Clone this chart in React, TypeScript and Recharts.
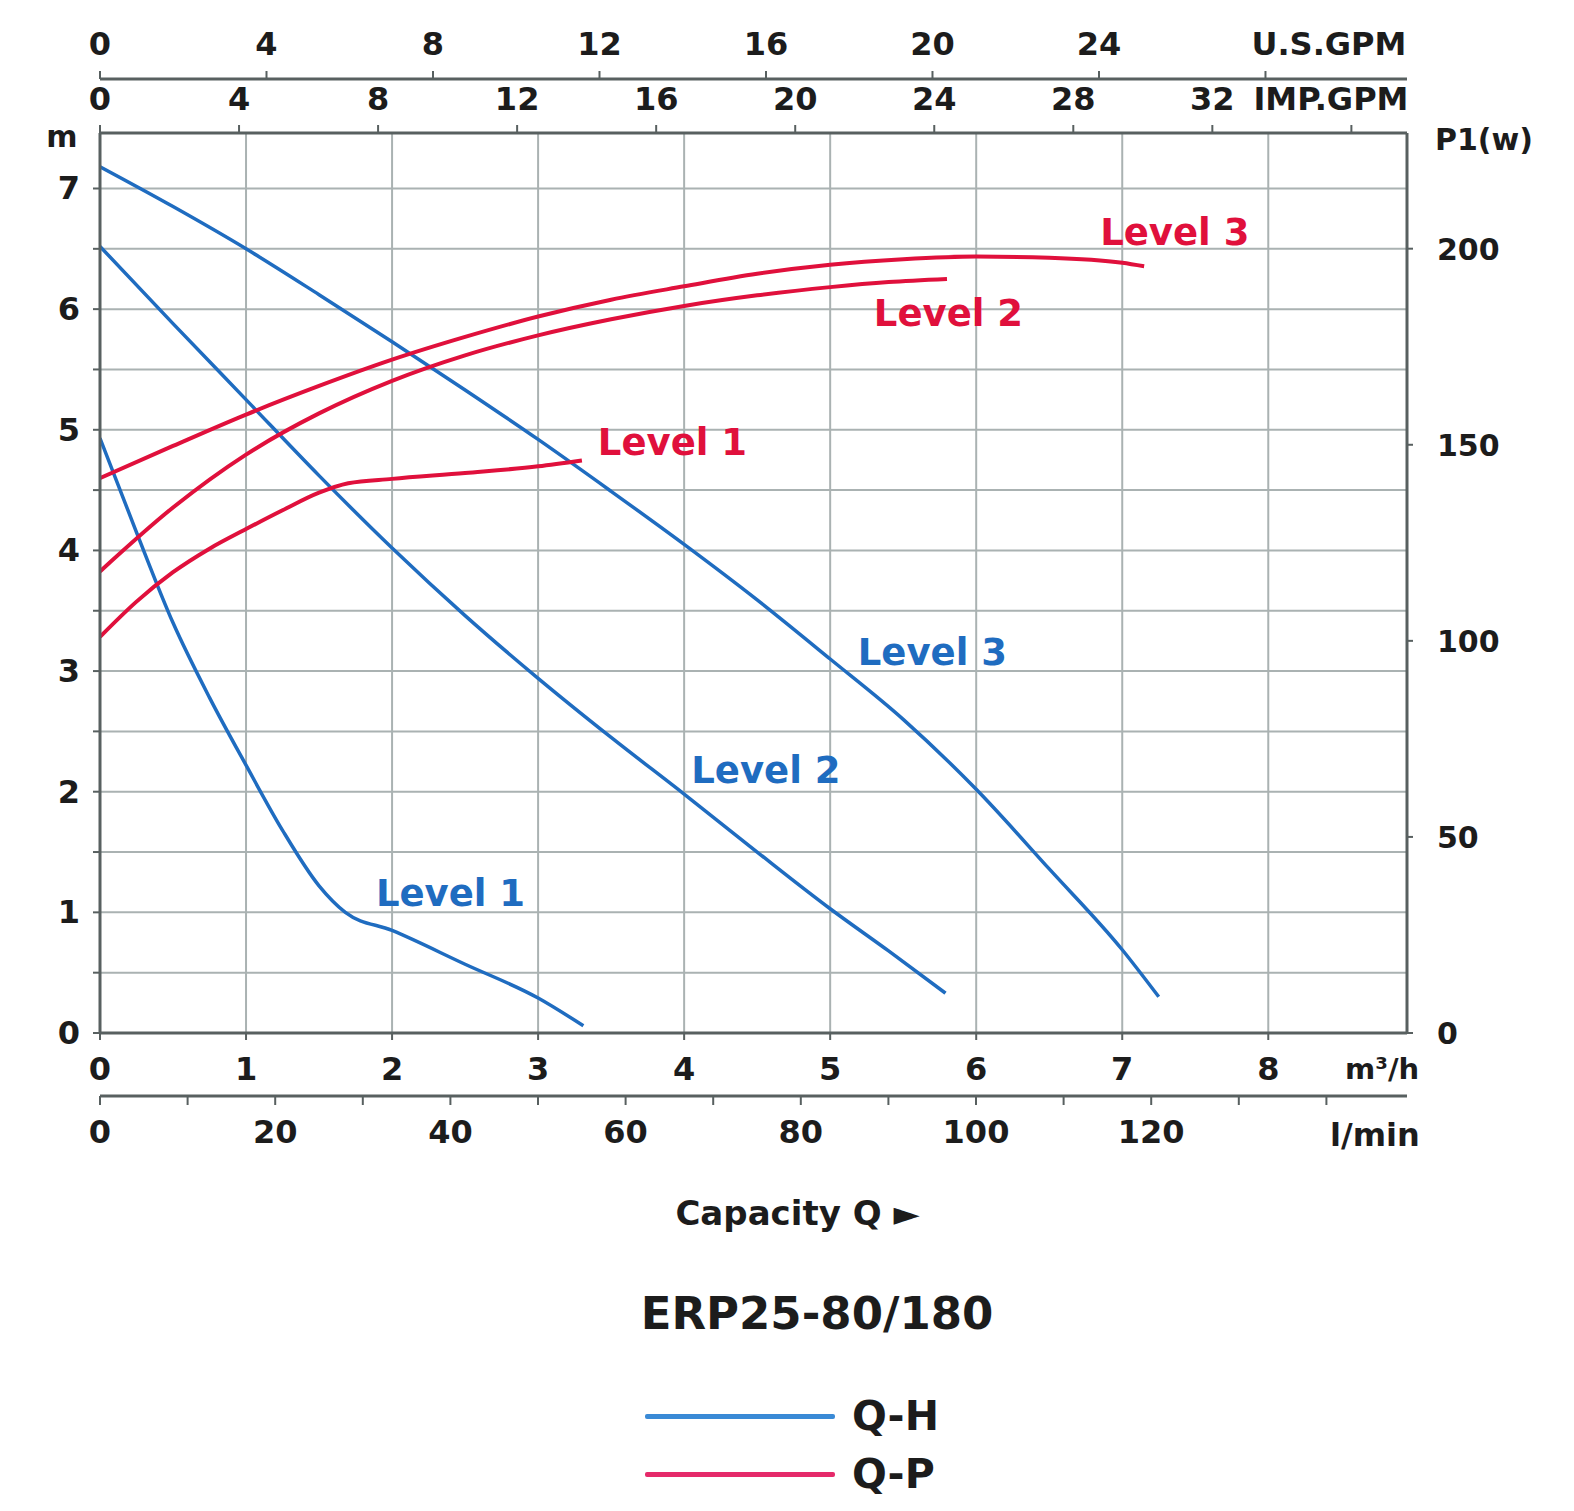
import {
  CartesianGrid,
  Label,
  Legend,
  Line,
  LineChart,
  ReferenceDot,
  XAxis,
  YAxis,
} from "recharts";

// capacity Q in m³/h, head H in m
const QH_LEVEL1: [number, number][] = [
  [0, 4.93], [0.25, 4.15], [0.5, 3.4], [0.75, 2.78], [1.0, 2.22], [1.25, 1.68], [1.5, 1.22],
  [1.68, 1.0], [2.0, 0.85], [2.5, 0.57], [3.0, 0.29], [3.31, 0.06],
];
const QH_LEVEL2: [number, number][] = [
  [0, 6.52], [0.5, 5.88], [1, 5.25], [1.5, 4.62], [2, 4.02], [2.5, 3.46], [3, 2.94],
  [3.5, 2.45], [4, 1.98], [4.5, 1.5], [5, 1.03], [5.4, 0.68], [5.79, 0.33],
];
const QH_LEVEL3: [number, number][] = [
  [0, 7.18], [0.5, 6.85], [1, 6.5], [1.5, 6.12], [2, 5.73], [2.5, 5.33], [3, 4.92], [3.5, 4.49],
  [4, 4.05], [4.5, 3.59], [5, 3.1], [5.5, 2.6], [6, 2.02], [6.5, 1.36], [7, 0.69], [7.25, 0.3],
];

// capacity Q in m³/h, power P1 in W
const QP_LEVEL1: [number, number][] = [
  [0, 101], [0.25, 110], [0.5, 117.5], [0.75, 123.5], [1, 128.5], [1.25, 133.3], [1.5, 137.8],
  [1.7, 140.2], [2, 141.3], [2.5, 142.8], [3, 144.5], [3.3, 146],
];
const QP_LEVEL2: [number, number][] = [
  [0, 117.7], [0.5, 134], [1, 147.5], [1.5, 158], [2, 166.3], [2.5, 172.8], [3, 177.9],
  [3.5, 182], [4, 185.4], [4.5, 188.1], [5, 190.2], [5.4, 191.5], [5.8, 192.3],
];
const QP_LEVEL3: [number, number][] = [
  [0, 141.5], [0.5, 149.7], [1, 157.7], [1.5, 165], [2, 171.7], [2.5, 177.5], [3, 182.7],
  [3.5, 187], [4, 190.4], [4.5, 193.6], [5, 195.9], [5.5, 197.3], [6, 198], [6.5, 197.7],
  [7, 196.4], [7.15, 195.5],
];

const Q_TICKS = [0, 1, 2, 3, 4, 5, 6, 7, 8];
const LMIN_TICKS = [0, 10, 20, 30, 40, 50, 60, 70, 80, 90, 100, 110, 120, 130, 140];
const LMIN_LABELS = [0, 20, 40, 60, 80, 100, 120];
const US_GPM_TICKS = [0, 4, 8, 12, 16, 20, 24, 28];
const IMP_GPM_TICKS = [0, 4, 8, 12, 16, 20, 24, 28, 32, 36];
const H_TICKS = [0, 0.5, 1, 1.5, 2, 2.5, 3, 3.5, 4, 4.5, 5, 5.5, 6, 6.5, 7];
const P_TICKS = [0, 50, 100, 150, 200];

const Q_MAX = 8.95;
const LMIN_MAX = 149.2;
const US_GPM_MAX = 31.4;
const IMP_GPM_MAX = 37.6;
const H_MAX = 7.46;
const P_MAX = 229.5;

// extents of the secondary capacity scales (same span as 0..Q_MAX m³/h)
const SCALE_EXTENTS = [
  { lmin: 0, imp: 0, us: 0 },
  { lmin: LMIN_MAX, imp: IMP_GPM_MAX, us: US_GPM_MAX },
];

// curve name labels: [text, Q, value]
const QH_LABELS: [string, number, number][] = [
  ["Level 1", 2.4, 1.16],
  ["Level 2", 4.56, 2.18],
  ["Level 3", 5.7, 3.16],
];
const QP_LABELS: [string, number, number][] = [
  ["Level 1", 3.92, 150.8],
  ["Level 2", 5.81, 183.7],
  ["Level 3", 7.36, 204.3],
];

const LEGEND_ITEMS = [
  { name: "Q-H", color: "#3a8ad6" },
  { name: "Q-P", color: "#e52a6a" },
];

const BLUE = "#1f6cc0";
const RED = "#e0103c";
const AXIS = "#586060";
const GRID = "#aab2b2";
const FONT = "DejaVu Sans, Verdana, sans-serif";

const toPoints = (rows: [number, number][]) => rows.map(([q, v]) => ({ q, v }));

const txt = { fontFamily: FONT, fontWeight: 700, fill: "#1c1c1c" };
const axisLine = { stroke: AXIS, strokeWidth: 3 };
const tickLine = { stroke: AXIS, strokeWidth: 2 };

function topTick(unit: string, unitAt: number, unitDx: number) {
  return (props: any) => {
    const { x, y, payload } = props;
    if (payload.value === unitAt) {
      return (
        <text x={x + unitDx} y={y} textAnchor="start" fontSize={32} {...txt}>
          {unit}
        </text>
      );
    }
    return (
      <text x={x} y={y} textAnchor="middle" fontSize={32} {...txt}>
        {payload.value}
      </text>
    );
  };
}

function bottomTick(labelled: number[]) {
  return (props: any) => {
    const { x, y, payload } = props;
    if (!labelled.includes(payload.value)) return <g />;
    return (
      <text x={x} y={y} dy={24} textAnchor="middle" fontSize={32} {...txt}>
        {payload.value}
      </text>
    );
  };
}

const usTick = topTick("U.S.GPM", 28, -14);
const impTick = topTick("IMP.GPM", 36, -98);
const flowTick = bottomTick(Q_TICKS);
const lminTick = bottomTick(LMIN_LABELS);

function leftTick(props: any) {
  const { x, y, payload } = props;
  if (!Number.isInteger(payload.value)) return <g />;
  return (
    <text x={x} y={y} dy={11} textAnchor="end" fontSize={32} {...txt}>
      {payload.value}
    </text>
  );
}

function rightTick(props: any) {
  const { x, y, payload } = props;
  return (
    <text x={x} y={y} dy={11} textAnchor="start" fontSize={30} {...txt}>
      {payload.value}
    </text>
  );
}

const m3hLabel = (p: any) => (
  <text x={p.viewBox.x + p.viewBox.width - 62} y={p.viewBox.y + 46} fontSize={29} {...txt}>
    m³/h
  </text>
);
const lminLabel = (p: any) => (
  <text x={p.viewBox.x + p.viewBox.width - 77} y={p.viewBox.y + 50} fontSize={32} {...txt}>
    l/min
  </text>
);
const capacityLabel = (p: any) => (
  <text x={p.viewBox.x + p.viewBox.width / 2 + 44} y={p.viewBox.y + 129} textAnchor="middle" fontSize={34} {...txt}>
    Capacity Q ►
  </text>
);
const headLabel = (p: any) => (
  <text x={p.viewBox.x + 54} y={p.viewBox.y + 14} textAnchor="middle" fontSize={30} {...txt}>
    m
  </text>
);
const powerLabel = (p: any) => (
  <text x={p.viewBox.x + 28} y={p.viewBox.y + 17} fontSize={30} {...txt}>
    P1(w)
  </text>
);

function LegendBlock() {
  return (
    <div style={{ position: "relative", width: 1558, height: 250, fontFamily: FONT, fontWeight: 700, color: "#1c1c1c" }}>
      <div
        style={{
          position: "absolute",
          top: 38,
          left: 0,
          width: 1558,
          paddingLeft: 60,
          boxSizing: "border-box",
          textAlign: "center",
          fontSize: 45,
          lineHeight: 1,
        }}
      >
        ERP25-80/180
      </div>
      {LEGEND_ITEMS.map((item, i) => (
        <div
          key={item.name}
          style={{
            position: "absolute",
            left: 637,
            top: 138 + i * 58,
            height: 50,
            display: "flex",
            alignItems: "center",
          }}
        >
          <div style={{ width: 190, height: 5, background: item.color, borderRadius: 2 }} />
          <span style={{ marginLeft: 17, fontSize: 41, lineHeight: "50px" }}>{item.name}</span>
        </div>
      ))}
    </div>
  );
}

const legendContent = () => <LegendBlock />;
const legendWrapper = { left: 0, width: 1558 };

export default function App() {
  return (
    <LineChart width={1558} height={1495} data={SCALE_EXTENTS} margin={{ top: 0, right: 0, bottom: 0, left: 0 }}>
      <CartesianGrid xAxisId="flow" yAxisId="h" stroke={GRID} strokeWidth={2} />

      <XAxis
        xAxisId="flow"
        dataKey="q"
        type="number"
        orientation="bottom"
        domain={[0, Q_MAX]}
        allowDataOverflow
        ticks={Q_TICKS}
        interval={0}
        height={63}
        tickSize={7}
        tickMargin={16}
        tick={flowTick}
        axisLine={axisLine}
        tickLine={tickLine}
      >
        <Label content={m3hLabel} />
      </XAxis>
      <XAxis
        xAxisId="lmin"
        dataKey="lmin"
        type="number"
        orientation="bottom"
        domain={[0, LMIN_MAX]}
        allowDataOverflow
        ticks={LMIN_TICKS}
        interval={0}
        height={157}
        tickSize={9}
        tickMargin={14}
        tick={lminTick}
        axisLine={axisLine}
        tickLine={tickLine}
      >
        <Label content={lminLabel} />
        <Label content={capacityLabel} />
      </XAxis>
      <XAxis
        xAxisId="imp"
        dataKey="imp"
        type="number"
        orientation="top"
        domain={[0, IMP_GPM_MAX]}
        allowDataOverflow
        ticks={IMP_GPM_TICKS}
        interval={0}
        height={54}
        tickSize={8}
        tickMargin={15}
        tick={impTick}
        axisLine={axisLine}
        tickLine={tickLine}
      />
      <XAxis
        xAxisId="us"
        dataKey="us"
        type="number"
        orientation="top"
        domain={[0, US_GPM_MAX]}
        allowDataOverflow
        ticks={US_GPM_TICKS}
        interval={0}
        height={71}
        tickSize={8}
        tickMargin={16}
        tick={usTick}
        axisLine={axisLine}
        tickLine={tickLine}
      />

      <YAxis
        yAxisId="h"
        type="number"
        orientation="left"
        domain={[0, H_MAX]}
        allowDataOverflow
        ticks={H_TICKS}
        interval={0}
        width={92}
        tickSize={7}
        tickMargin={13}
        tick={leftTick}
        axisLine={axisLine}
        tickLine={tickLine}
      >
        <Label content={headLabel} />
      </YAxis>
      <YAxis
        yAxisId="p"
        type="number"
        orientation="right"
        domain={[0, P_MAX]}
        allowDataOverflow
        ticks={P_TICKS}
        interval={0}
        width={159}
        tickSize={6}
        tickMargin={24}
        tick={rightTick}
        axisLine={axisLine}
        tickLine={tickLine}
      >
        <Label content={powerLabel} />
      </YAxis>

      <Line xAxisId="flow" yAxisId="h" name="Q-H Level 1" data={toPoints(QH_LEVEL1)} dataKey="v" type="monotone" stroke={BLUE} strokeWidth={3.5} dot={false} isAnimationActive={false} />
      <Line xAxisId="flow" yAxisId="h" name="Q-H Level 2" data={toPoints(QH_LEVEL2)} dataKey="v" type="monotone" stroke={BLUE} strokeWidth={3.5} dot={false} isAnimationActive={false} />
      <Line xAxisId="flow" yAxisId="h" name="Q-H Level 3" data={toPoints(QH_LEVEL3)} dataKey="v" type="monotone" stroke={BLUE} strokeWidth={3.5} dot={false} isAnimationActive={false} />
      <Line xAxisId="flow" yAxisId="p" name="Q-P Level 1" data={toPoints(QP_LEVEL1)} dataKey="v" type="monotone" stroke={RED} strokeWidth={4} dot={false} isAnimationActive={false} />
      <Line xAxisId="flow" yAxisId="p" name="Q-P Level 2" data={toPoints(QP_LEVEL2)} dataKey="v" type="monotone" stroke={RED} strokeWidth={4} dot={false} isAnimationActive={false} />
      <Line xAxisId="flow" yAxisId="p" name="Q-P Level 3" data={toPoints(QP_LEVEL3)} dataKey="v" type="monotone" stroke={RED} strokeWidth={4} dot={false} isAnimationActive={false} />

      {QH_LABELS.map(([text, q, v]) => (
        <ReferenceDot
          key={"h" + text}
          xAxisId="flow"
          yAxisId="h"
          x={q}
          y={v}
          r={0}
          ifOverflow="visible"
          label={{ value: text, position: "center", fill: BLUE, fontSize: 37, fontWeight: 700, fontFamily: FONT }}
        />
      ))}
      {QP_LABELS.map(([text, q, v]) => (
        <ReferenceDot
          key={"p" + text}
          xAxisId="flow"
          yAxisId="p"
          x={q}
          y={v}
          r={0}
          ifOverflow="visible"
          label={{ value: text, position: "center", fill: RED, fontSize: 37, fontWeight: 700, fontFamily: FONT }}
        />
      ))}

      <Legend verticalAlign="bottom" align="left" content={legendContent} wrapperStyle={legendWrapper} />
    </LineChart>
  );
}
